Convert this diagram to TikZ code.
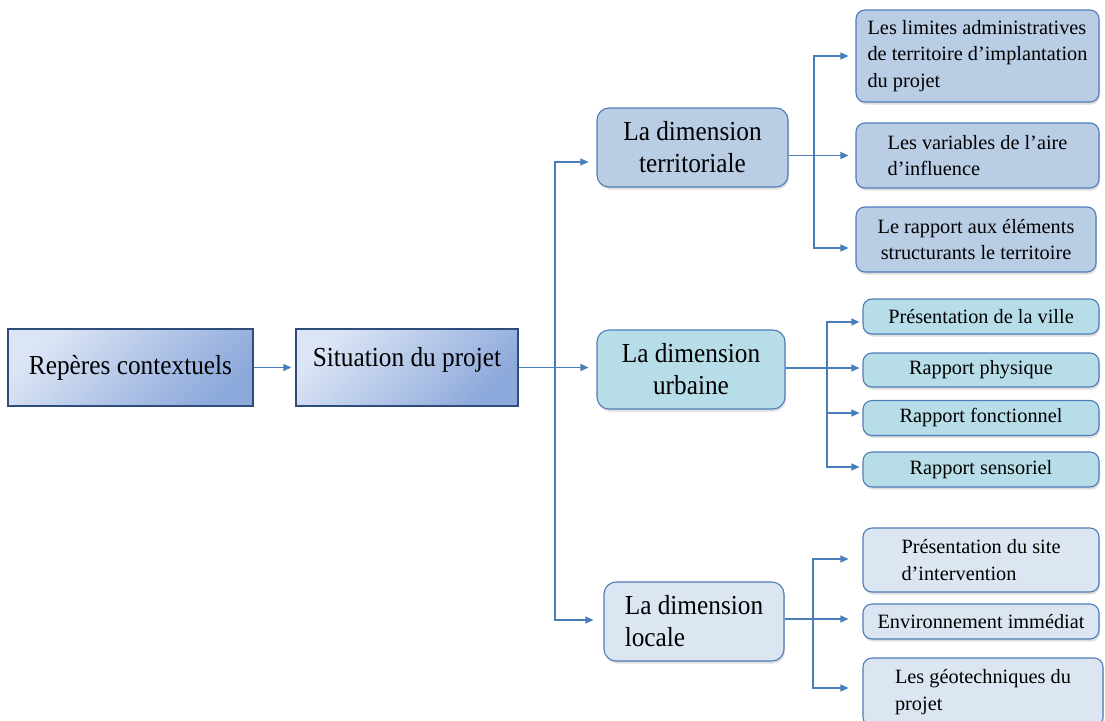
\documentclass[tikz,border=0pt]{standalone}
\usepackage{fontspec}
\setmainfont{Liberation Serif}
\newfontfamily\bigserif{Liberation Serif}[FakeStretch=0.92]
\usetikzlibrary{arrows.meta,shadows,calc}
\definecolor{mainborder}{HTML}{2E4D7B}
\definecolor{gradA}{HTML}{DCE5F5}
\definecolor{gradB}{HTML}{8DA9DB}
\definecolor{boxborder}{HTML}{4F7CB8}
\definecolor{terrfill}{HTML}{B9CDE5}
\definecolor{urbfill}{HTML}{B7DEE8}
\definecolor{locfill}{HTML}{DCE6F2}
\definecolor{linkcol}{HTML}{4A7EBB}
\begin{document}
\begin{tikzpicture}[x=1pt,y=-1pt,
  bigfont/.style={font=\bigserif\fontsize{27.5}{32}\selectfont},
  smallfont/.style={font=\fontsize{20.3}{26.5}\selectfont},
  mainbox/.style={draw=mainborder, line width=1.4pt, top color=gradA, bottom color=gradB, shading angle=45, bigfont, inner sep=0pt, align=center},
  roundbox/.style={draw=boxborder, line width=1.1pt, rounded corners=12pt, inner sep=0pt,
     drop shadow={opacity=0.25, shadow xshift=1pt, shadow yshift=-2.5pt}},
  dimbox/.style={roundbox, bigfont},
  subbox/.style={roundbox, smallfont, rounded corners=9pt},
  link/.style={draw=linkcol, line width=1.2pt},
  arr/.style={link, -{Triangle[length=8pt,width=7pt]}}
]
\useasboundingbox (0,0) rectangle (1105,720);

% main boxes
\node[mainbox, minimum width=245pt, minimum height=77pt] (rep) at (130.5,367.5) {Repères contextuels};
\node[mainbox, minimum width=222pt, minimum height=77pt, text depth=20.5pt] (sit) at (407,367.5) {Situation du projet};

% dimension boxes
\node[dimbox, fill=terrfill, minimum width=191pt, minimum height=79pt, align=center] (terr) at (692.5,147.5) {La dimension\\territoriale};
\node[dimbox, fill=urbfill, minimum width=188pt, minimum height=79pt, align=center] (urb) at (691,369.5) {La dimension\\urbaine};
\node[dimbox, fill=locfill, minimum width=180pt, minimum height=79pt, align=left] (loc) at (694,621.5) {La dimension\\locale};

% territorial sub boxes
\node[subbox, fill=terrfill, minimum width=243pt, minimum height=92pt, align=left] (t1) at (977.5,56) {Les limites administratives\\de territoire d’implantation\\du projet};
\node[subbox, fill=terrfill, minimum width=243pt, minimum height=65pt, align=left] (t2) at (977.5,155.5) {Les variables de l’aire\\d’influence};
\node[subbox, fill=terrfill, minimum width=240pt, minimum height=65pt, align=center] (t3) at (976,239.5) {Le rapport aux éléments\\structurants le territoire};

% urban sub boxes
\node[subbox, fill=urbfill, minimum width=236pt, minimum height=35pt] (u1) at (981,316.5) {Présentation de la ville};
\node[subbox, fill=urbfill, minimum width=236pt, minimum height=34pt] (u2) at (981,370) {Rapport physique};
\node[subbox, fill=urbfill, minimum width=236pt, minimum height=35pt] (u3) at (981,418) {Rapport fonctionnel};
\node[subbox, fill=urbfill, minimum width=236pt, minimum height=35pt] (u4) at (981,469.5) {Rapport sensoriel};

% local sub boxes
\node[subbox, fill=locfill, minimum width=236pt, minimum height=64pt, align=left] (l1) at (981,560) {Présentation du site\\d’intervention};
\node[subbox, fill=locfill, minimum width=236pt, minimum height=35pt] (l2) at (981,621.5) {Environnement immédiat};
\node[subbox, fill=locfill, minimum width=240pt, minimum height=68pt, align=left] (l3) at (983,692) {Les géotechniques du\\projet};

% connectors: main
\draw[arr, shorten >=4pt] (rep) -- (sit);
\coordinate (sp) at (555,367.5);
\draw[arr, shorten >=8pt] (sit.east) -- (sit.east -| urb.west);
\draw[arr, shorten >=8pt] (sp) |- ([yshift=-14.5pt]terr.west);
\draw[arr, shorten >=10pt] (sp) |- ([yshift=1.5pt]loc.west);

% connectors: territorial
\coordinate (tb) at (814,155.5);
\draw[arr, shorten >=7pt] (terr.east |- tb) -- (tb -| t2.west);
\draw[arr, shorten >=7pt] (tb) |- (t1.west);
\draw[arr, shorten >=7pt] (tb) |- ([yshift=-8.5pt]t3.west);

% connectors: urban
\coordinate (ub) at (827,368);
\draw[arr, shorten >=3pt] (urb.east |- ub) -- (ub -| u2.west);
\draw[arr, shorten >=3pt] (ub) |- ([yshift=-5.5pt]u1.west);
\draw[arr, shorten >=3pt] (ub) |- ([yshift=5pt]u3.west);
\draw[arr, shorten >=3pt] (ub) |- ([yshift=2.5pt]u4.west);

% connectors: local
\coordinate (lb) at (813,619);
\draw[arr, shorten >=14pt] (loc.east |- lb) -- (lb -| l2.west);
\draw[arr, shorten >=14pt] (lb) |- ([yshift=1pt]l1.west);
\draw[arr, shorten >=14pt] (lb) |- ([yshift=4pt]l3.west);
\end{tikzpicture}
\end{document}
